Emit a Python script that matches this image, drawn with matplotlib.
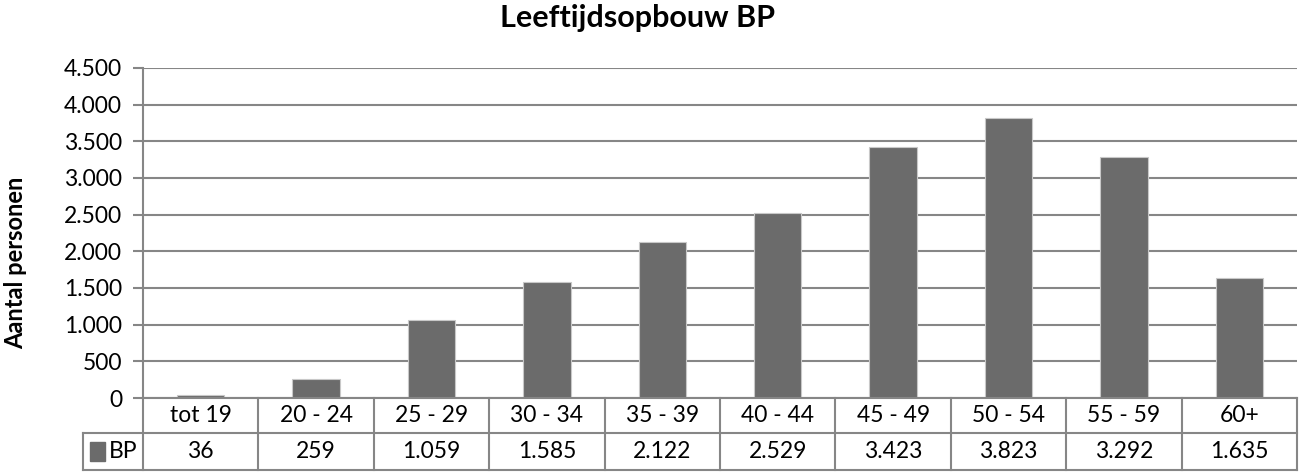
import numpy as np
import matplotlib.pyplot as plt
from matplotlib.patches import Rectangle

categories = ['tot 19', '20 - 24', '25 - 29', '30 - 34', '35 - 39',
              '40 - 44', '45 - 49', '50 - 54', '55 - 59', '60+']
values = [36, 259, 1059, 1585, 2122, 2529, 3423, 3823, 3292, 1635]
value_labels = ['36', '259', '1.059', '1.585', '2.122',
                '2.529', '3.423', '3.823', '3.292', '1.635']
series_name = 'BP'
yticks = [0, 500, 1000, 1500, 2000, 2500, 3000, 3500, 4000, 4500]
ytick_labels = ['0', '500', '1.000', '1.500', '2.000', '2.500',
                '3.000', '3.500', '4.000', '4.500']

plt.rcParams['font.family'] = ['Lato', 'DejaVu Sans']

W, H = 1299, 473
fig = plt.figure(figsize=(W / 100, H / 100), dpi=100)
ax = fig.add_axes([143 / W, 1 - 398 / H, (1297 - 143) / W, (398 - 68) / H])

grid_col = '#868686'
bar_col = '#6b6b6b'
fs = 16.5

x = np.arange(len(categories))
ax.bar(x, values, width=0.41, color=bar_col, edgecolor='#c8c8c8', linewidth=0.8, zorder=3)

ax.set_xlim(-0.5, len(categories) - 0.5)
ax.set_ylim(0, 4500)
ax.set_yticks(yticks)
ax.set_yticklabels(ytick_labels, fontsize=fs)
ax.set_xticks([])
ax.yaxis.grid(True, color=grid_col, linewidth=1.5, zorder=0)
ax.tick_params(axis='y', length=7, width=1.5, color=grid_col, pad=8)
for s in ['top', 'right', 'bottom']:
    ax.spines[s].set_visible(False)
ax.spines['left'].set_color(grid_col)
ax.spines['left'].set_linewidth(1.5)

fig.text(637 / W, 1 - 18 / H, 'Leeftijdsopbouw BP', ha='center', va='center',
         fontsize=22, fontweight='bold')
fig.text(16 / W, 1 - 263 / H, 'Aantal personen', ha='center', va='center',
         rotation=90, fontsize=17, fontweight='bold')

# data table under the axis
ax_h = 398 - 68
r1 = -(433 - 398) / ax_h
r2 = -(470 - 398) / ax_h
left_lbl = -(143 - 83) / (1297 - 143)
xt = ax.get_xaxis_transform()
edges = np.arange(len(categories) + 1) - 0.5
lw = 1.5
# horizontal lines
ax.plot([edges[0], edges[-1]], [0, 0], transform=xt, color=grid_col, lw=lw, clip_on=False, zorder=4)
ax.plot([left_lbl, 1], [r1, r1], transform=ax.transAxes, color=grid_col, lw=lw, clip_on=False)
ax.plot([left_lbl, 1], [r2, r2], transform=ax.transAxes, color=grid_col, lw=lw, clip_on=False)
# vertical lines
for e in edges:
    ax.plot([e, e], [0, r2], transform=xt, color=grid_col, lw=lw, clip_on=False)
ax.plot([left_lbl, left_lbl], [r1, r2], transform=ax.transAxes, color=grid_col, lw=lw, clip_on=False)

for i, (c, v) in enumerate(zip(categories, value_labels)):
    ax.text(i, r1 / 2, c, transform=xt, ha='center', va='center', fontsize=fs)
    ax.text(i, (r1 + r2) / 2, v, transform=xt, ha='center', va='center', fontsize=fs)

ax.add_patch(Rectangle((left_lbl + 0.006, (r1 + r2) / 2 - 0.03), 0.013, 0.06,
                       transform=ax.transAxes, color=bar_col, clip_on=False))
ax.text(left_lbl + 0.022, (r1 + r2) / 2, series_name, transform=ax.transAxes,
        ha='left', va='center', fontsize=fs)

fig.savefig('out.png', dpi=100)
